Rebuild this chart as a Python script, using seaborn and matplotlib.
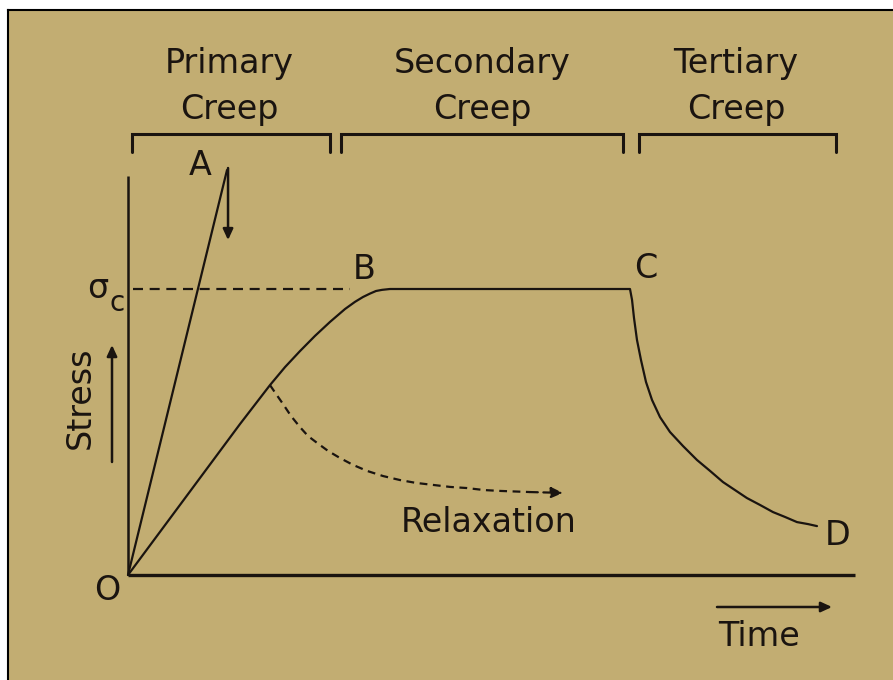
import matplotlib
matplotlib.use("Agg")
import matplotlib.pyplot as plt
import seaborn as sns

sns.set_style("white")
plt.rcParams['font.family'] = ['DejaVu Sans']

# ---------------- data (time, stress units; sigma_c = 1) ----------------
load_time = [0.0, 1.362]
load_stress = [0.0, 1.416]

creep_time = [0.0, 1.541, 1.747, 1.953, 2.160, 2.366, 2.572, 2.779, 2.985,
              3.122, 3.232, 3.329, 3.411, 3.494, 3.604,
              6.905, 6.933, 6.960, 7.001, 7.056, 7.125, 7.208, 7.318, 7.455,
              7.634, 7.827, 8.006, 8.184, 8.349, 8.514, 8.693, 8.872, 9.037,
              9.202, 9.354, 9.477]
creep_stress = [0.0, 0.528, 0.596, 0.664, 0.727, 0.783, 0.836, 0.885, 0.930,
                0.955, 0.972, 0.984, 0.993, 0.997, 1.0,
                1.0, 0.962, 0.899, 0.822, 0.752, 0.675, 0.612, 0.552, 0.500,
                0.451, 0.402, 0.364, 0.325, 0.297, 0.269, 0.245, 0.220, 0.203,
                0.185, 0.178, 0.171]

relax_time = [1.953, 2.036, 2.132, 2.242, 2.366, 2.476, 2.600, 2.751, 2.916,
              3.095, 3.288, 3.508, 3.741, 3.961, 4.195, 4.429, 4.663, 4.897,
              5.117, 5.530, 5.984]
relax_stress = [0.664, 0.633, 0.598, 0.556, 0.517, 0.486, 0.462, 0.434, 0.409,
                0.385, 0.364, 0.346, 0.332, 0.322, 0.315, 0.308, 0.304, 0.297,
                0.294, 0.290, 0.287]

sigma_c = 1.0
sigma_line_time = [0.069, 3.054]

unload_time = 1.376
unload_stress = [1.423, 1.171]

axis_time_max = 10.0
axis_stress_max = 1.395

stage_names = ["Primary\nCreep", "Secondary\nCreep", "Tertiary\nCreep"]
stage_start = [0.055, 2.930, 7.029]
stage_end = [2.779, 6.809, 9.739]
bracket_top = 1.542
bracket_tick = 1.479

point_labels = ["A", "B", "C", "D", "O"]

# ---------------- figure ----------------
W, H = 893, 680
fig = plt.figure(figsize=(W / 100, H / 100), dpi=100)
fig.patch.set_facecolor("white")

tan = "#C2AD72"
ink = "#1a1410"

ax = fig.add_axes([8 / W, 0, (W - 8) / W, (H - 10) / H])
ax.set_facecolor(tan)
for side in ["right", "bottom"]:
    ax.spines[side].set_visible(False)
for side in ["top", "left"]:
    ax.spines[side].set_color("black")
    ax.spines[side].set_linewidth(1.5)
ax.set_xticks([])
ax.set_yticks([])

# pixel -> data mapping for annotation placement (origin at pixel 128,575)
sx, sy = 72.7, 286.0
def P(x, y):
    return (x - 128) / sx, (575 - y) / sy

x0, _ = P(8, 0)
x1, _ = P(W, 0)
_, y0 = P(0, H)
_, y1 = P(0, 10)
ax.set_xlim(x0, x1)
ax.set_ylim(y0, y1)

lw = 1.6
# axes lines
ax.plot([0, axis_time_max], [0, 0], color=ink, lw=2.4, solid_capstyle="butt")
ax.plot([0, 0], [0, axis_stress_max], color=ink, lw=1.8, solid_capstyle="butt")

# curves via seaborn
sns.lineplot(x=load_time, y=load_stress, sort=False, estimator=None, ax=ax,
             color=ink, lw=lw)
sns.lineplot(x=creep_time, y=creep_stress, sort=False, estimator=None, ax=ax,
             color=ink, lw=lw)
sns.lineplot(x=relax_time[:-1], y=relax_stress[:-1], sort=False, estimator=None,
             ax=ax, color=ink, lw=lw, linestyle=(0, (3.5, 2.5)))
ax.annotate("", xy=(relax_time[-1], relax_stress[-1]),
            xytext=(relax_time[-2], relax_stress[-2]),
            arrowprops=dict(arrowstyle="-|>,head_length=0.7,head_width=0.32",
                            color=ink, lw=lw, linestyle=(0, (3.5, 2.5)),
                            shrinkA=0, shrinkB=0))

# sigma_c dashed line
ax.plot(sigma_line_time, [sigma_c, sigma_c], color=ink, lw=lw,
        linestyle=(0, (4.5, 3)))

arrow_kw = dict(arrowstyle="-|>,head_length=0.65,head_width=0.3",
                color=ink, lw=1.8, shrinkA=0, shrinkB=0)

# unloading arrow at A
ax.annotate("", xy=(unload_time, unload_stress[1]),
            xytext=(unload_time, unload_stress[0]), arrowprops=arrow_kw)

# brackets and stage titles
for name, a, b in zip(stage_names, stage_start, stage_end):
    ax.plot([a, a, b, b], [bracket_tick, bracket_top, bracket_top, bracket_tick],
            color=ink, lw=2.2, solid_joinstyle="miter")

fs = 24
title_cx = [229, 482, 736]
for name, cx in zip(stage_names, title_cx):
    l1, l2 = name.split("\n")
    ax.text(*P(cx, 73), l1, ha="center", va="baseline", fontsize=fs, color=ink)
    ax.text(*P(cx, 119), l2, ha="center", va="baseline", fontsize=fs, color=ink)

# point labels
label_pos = [(200, 175), (364, 279), (646, 278), (838, 545), (107, 600)]
for lab, (px, py) in zip(point_labels, label_pos):
    ax.text(*P(px, py), lab, ha="center", va="baseline", fontsize=fs, color=ink)

# sigma_c label
ax.text(*P(98, 298), "σ", ha="center", va="baseline", fontsize=fs, color=ink)
ax.text(*P(117, 311), "c", ha="center", va="baseline", fontsize=20, color=ink)

# Stress label + arrow
ax.text(*P(80, 398), "Stress", ha="center", va="center", rotation=90,
        fontsize=fs, color=ink)
ax.annotate("", xy=P(112, 345), xytext=P(112, 462), arrowprops=arrow_kw)

# Time label + arrow
ax.text(*P(759, 646), "Time", ha="center", va="baseline", fontsize=fs, color=ink)
ax.annotate("", xy=P(832, 607), xytext=P(717, 607), arrowprops=arrow_kw)

# Relaxation label
ax.text(*P(489, 532), "Relaxation", ha="center", va="baseline", fontsize=fs,
        color=ink)

fig.savefig("out.png", dpi=100, facecolor=fig.get_facecolor())
